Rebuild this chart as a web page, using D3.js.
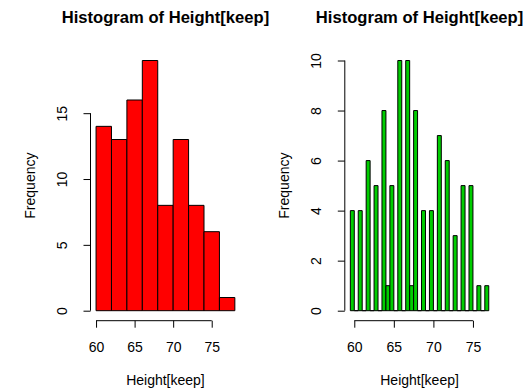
<!DOCTYPE html>
<html>
<head>
<meta charset="utf-8">
<script src="https://cdn.jsdelivr.net/npm/d3@7"></script>
<style>
  body { margin: 0; background: white; }
  text { font-family: "Liberation Sans", Arial, sans-serif; }
</style>
</head>
<body>
<div id="container"></div>
<script>
let w = 527;
let h = 388;

// left histogram: breaks of 2 inches
let leftBreaks = [60, 62, 64, 66, 68, 70, 72, 74, 76, 78];
let leftCounts = [14, 13, 16, 19, 8, 13, 8, 6, 1];

// right histogram: breaks of half an inch
let rightBreaks = [59.5, 60, 60.5, 61, 61.5, 62, 62.5, 63, 63.5, 64, 64.5, 65, 65.5, 66, 66.5, 67, 67.5, 68,
  68.5, 69, 69.5, 70, 70.5, 71, 71.5, 72, 72.5, 73, 73.5, 74, 74.5, 75, 75.5, 76, 76.5, 77];
let rightCounts = [4, 0, 4, 0, 6, 0, 5, 0, 8, 1, 5, 0, 10, 0, 10, 1, 8, 0, 4, 0, 4, 0, 7, 0, 6, 0, 3, 0, 5, 0,
  5, 0, 1, 0, 1];

let xTicks = [60, 65, 70, 75];
let leftYTicks = [0, 5, 10, 15];
let rightYTicks = [0, 2, 4, 6, 8, 10];

let titleText = "Histogram of Height[keep]";
let xLabel = "Height[keep]";
let yLabel = "Frequency";

let labelSize = 14;
let titleSize = 16.6;

let viz = d3.select("#container")
  .append("svg")
    .attr("width", w)
    .attr("height", h)
    .style("background-color", "white")
;

function drawHist(left, right, breaks, counts, yTicks, color){
  let top = 50.5;
  let bottom = 320.7;

  // R pads the data range by 4% on each side
  let xr = breaks[breaks.length-1] - breaks[0];
  let yMax = d3.max(counts);
  let xScale = d3.scaleLinear()
    .domain([breaks[0] - xr*0.04, breaks[breaks.length-1] + xr*0.04])
    .range([left, right]);
  let yScale = d3.scaleLinear()
    .domain([-yMax*0.04, yMax*1.04])
    .range([bottom, top]);

  let bins = counts.map(function(c, i){ return {x0: breaks[i], x1: breaks[i+1], n: c}; });

  let panel = viz.append("g");

  // paths, not rects, so the empty bins still show as a line on zero
  panel.selectAll(".bar").data(bins).enter()
    .append("path")
      .attr("class", "bar")
      .attr("d", function(d){
        let x0 = xScale(d.x0), x1 = xScale(d.x1);
        let y0 = yScale(0), y1 = yScale(d.n);
        return "M"+x0+","+y0+"H"+x1+"V"+y1+"H"+x0+"Z";
      })
      .style("fill", color)
      .style("stroke", "black")
      .style("stroke-width", 1)
  ;

  // x axis
  let xAxis = d3.axisBottom(xScale).tickValues(xTicks).tickSize(7).tickPadding(14.5).tickSizeOuter(0);
  let xg = panel.append("g")
    .attr("transform", "translate(0,"+bottom+")")
    .call(xAxis)
  ;
  xg.select(".domain").remove();
  xg.append("line")
    .attr("x1", xScale(xTicks[0]))
    .attr("x2", xScale(xTicks[xTicks.length-1]))
    .attr("y1", 0)
    .attr("y2", 0)
    .style("stroke", "black")
  ;
  xg.selectAll("text").attr("font-size", labelSize).attr("fill", "black").style("font-family", "Liberation Sans, Arial, sans-serif");

  // y axis
  let yAxis = d3.axisLeft(yScale).tickValues(yTicks).tickSize(7).tickSizeOuter(0);
  let yg = panel.append("g")
    .attr("transform", "translate("+left+",0)")
    .call(yAxis)
  ;
  yg.select(".domain").remove();
  yg.append("line")
    .attr("x1", 0)
    .attr("x2", 0)
    .attr("y1", yScale(yTicks[0]))
    .attr("y2", yScale(yTicks[yTicks.length-1]))
    .style("stroke", "black")
  ;
  yg.selectAll("text")
    .attr("x", null)
    .attr("dy", null)
    .attr("text-anchor", "middle")
    .attr("transform", "translate(-23.5,0) rotate(-90)")
    .attr("font-size", labelSize)
    .attr("fill", "black")
    .style("font-family", "Liberation Sans, Arial, sans-serif")
  ;

  let cx = (left + right) / 2;

  panel.append("text")
    .text(titleText)
    .attr("x", cx)
    .attr("y", 23)
    .attr("text-anchor", "middle")
    .attr("font-size", titleSize)
    .attr("font-weight", "bold")
  ;
  panel.append("text")
    .text(xLabel)
    .attr("x", cx)
    .attr("y", 384.5)
    .attr("text-anchor", "middle")
    .attr("font-size", labelSize)
  ;
  panel.append("text")
    .text(yLabel)
    .attr("transform", "translate("+(left-56)+","+((top+bottom)/2)+") rotate(-90)")
    .attr("text-anchor", "middle")
    .attr("font-size", labelSize)
  ;
}

drawHist(90.5, 240.4, leftBreaks, leftCounts, leftYTicks, "#FF0000");
drawHist(344.8, 494.3, rightBreaks, rightCounts, rightYTicks, "#00CD00");
</script>
</body>
</html>
